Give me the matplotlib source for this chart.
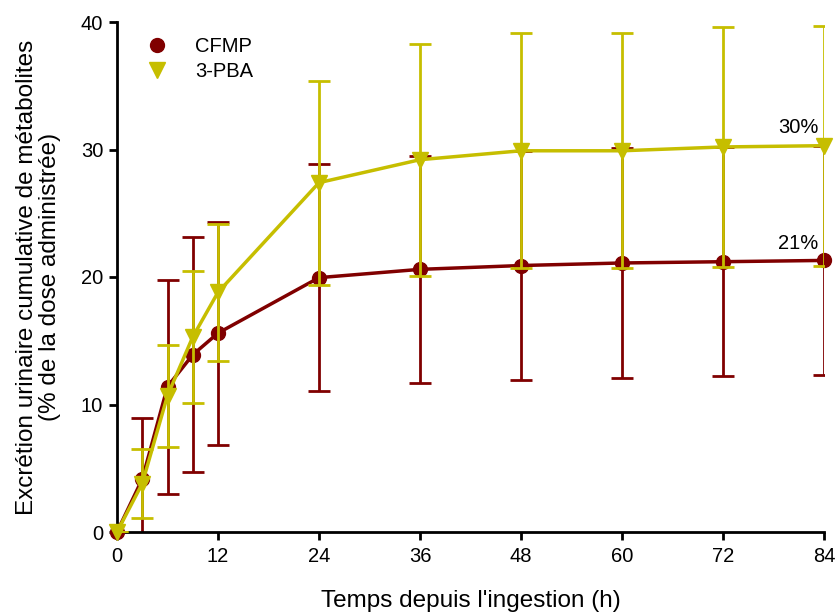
import matplotlib
matplotlib.use("Agg")
import matplotlib.pyplot as plt
from matplotlib.lines import Line2D

plt.rcParams['font.family'] = ['Liberation Sans', 'DejaVu Sans']

hours = [0, 3, 6, 9, 12, 24, 36, 48, 60, 72, 84]
cfmp = [0, 4.15, 11.4, 13.9, 15.6, 19.95, 20.6, 20.9, 21.1, 21.2, 21.3]
cfmp_err = [0, 4.8, 8.4, 9.2, 8.75, 8.9, 8.9, 9.0, 9.0, 9.0, 9.0]
pba = [0, 3.8, 10.7, 15.3, 18.8, 27.4, 29.2, 29.9, 29.9, 30.2, 30.3]
pba_err = [0, 2.7, 4.0, 5.2, 5.35, 8.0, 9.1, 9.2, 9.2, 9.4, 9.4]
xticks = [0, 12, 24, 36, 48, 60, 72, 84]
yticks = [0, 10, 20, 30, 40]
labels = ['CFMP', '3-PBA']
final_labels = ['21%', '30%']

red = '#800000'
yel = '#C6BE00'

fig = plt.figure(figsize=(8.35, 6.14), dpi=100)
ax = fig.add_axes([117/835, 1-532/614, (824-117)/835, (532-22)/614])

ax.errorbar(hours, cfmp, yerr=cfmp_err, fmt='none', ecolor=red, elinewidth=2,
            capsize=8, capthick=2, zorder=2)
ax.plot(hours, cfmp, color=red, lw=2.5, marker='o', markersize=10, clip_on=False,
        zorder=3)
ax.errorbar(hours, pba, yerr=pba_err, fmt='none', ecolor=yel, elinewidth=2,
            capsize=8, capthick=2, zorder=4)
ax.plot(hours, pba, color=yel, lw=2.5, marker='v', markersize=11, clip_on=False,
        zorder=5)

ax.set_xlim(0, 84)
ax.set_ylim(0, 40)
ax.set_xticks(xticks)
ax.set_yticks(yticks)
for s in ['top', 'right']:
    ax.spines[s].set_visible(False)
for s in ['left', 'bottom']:
    ax.spines[s].set_linewidth(2)
ax.tick_params(direction='out', length=6, width=2, labelsize=14.5)
ax.tick_params(axis='x', pad=5)
ax.tick_params(axis='y', pad=4)

ax.set_xlabel("Temps depuis l'ingestion (h)", fontsize=17.5, labelpad=17)
ax.set_ylabel("Excrétion urinaire cumulative de métabolites\n(% de la dose administrée)",
              fontsize=17.5, labelpad=14, linespacing=1.05)

ax.text(83.3, 31.7, final_labels[1], ha='right', va='center', fontsize=14.5)
ax.text(83.3, 22.6, final_labels[0], ha='right', va='center', fontsize=14.5)

handles = [Line2D([], [], color=red, marker='o', markersize=10, linestyle='none'),
           Line2D([], [], color=yel, marker='v', markersize=11, linestyle='none')]
ax.legend(handles, labels, loc='upper left', bbox_to_anchor=(0.017, 1.006), frameon=False,
          fontsize=14.5, handlelength=1.0, handletextpad=1.4, labelspacing=0.3)

fig.savefig('out.png', dpi=100)
